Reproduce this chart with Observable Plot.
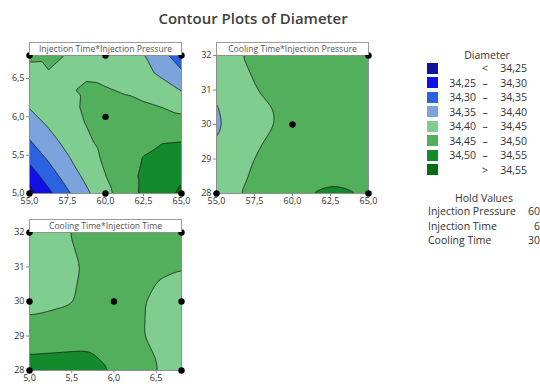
<!DOCTYPE html>
<html><head><meta charset="utf-8">
<script src="https://cdn.jsdelivr.net/npm/d3@7"></script>
<script src="https://cdn.jsdelivr.net/npm/@observablehq/plot@0.6"></script>
<style>
body{margin:0;background:#fff;font-family:"Open Sans",sans-serif;}
#root{position:relative;width:540px;height:387px;overflow:hidden;background:#fff;}
.abs{position:absolute;white-space:nowrap;}
.title{left:0;width:506px;top:7px;text-align:center;font-size:15px;font-weight:600;color:#404040;line-height:22px;}
.hdr{box-sizing:border-box;border:1px solid #9a9a9a;border-bottom:none;background:#fff;text-align:center;font-size:8.6px;color:#555;line-height:12px;height:13px;}
.lg{font-size:10.5px;color:#333;line-height:14px;}
.sw{width:11px;height:11px;}
</style></head><body><div id="root"></div>
<script>
// ---- data ----
const thresholds = [34.25, 34.30, 34.35, 34.40, 34.45, 34.50, 34.55];
const bandColors = ["#1212A0", "#1010E6", "#2A62E0", "#7BA3DC", "#80CE8F", "#52AF5B", "#138A2C", "#066C13"];
const holdNames = ["Injection Pressure", "Injection Time", "Cooling Time"];
const holdValues = ["60", "6", "30"];
const panelTitles = ["Injection Time*Injection Pressure", "Cooling Time*Injection Pressure", "Cooling Time*Injection Time"];

const pressureFine = [55, 56.25, 57.5, 58.75, 60, 61.25, 62.5, 63.75, 65];
const injTimeFine = [5, 5.225, 5.45, 5.675, 5.9, 6.125, 6.35, 6.575, 6.8];
const pressureGrid = [55, 57.5, 60, 62.5, 65];
const injTimeGrid = [5, 5.45, 5.9, 6.35, 6.8];
const coolGrid = [28, 29, 30, 31, 32];

const diamTimePressure = [
  [34.229, 34.288, 34.342, 34.391, 34.436, 34.475, 34.509, 34.538, 34.556],
  [34.272, 34.324, 34.371, 34.412, 34.449, 34.481, 34.508, 34.529, 34.546],
  [34.311, 34.355, 34.394, 34.429, 34.458, 34.482, 34.502, 34.516, 34.525],
  [34.346, 34.382, 34.414, 34.442, 34.464, 34.479, 34.491, 34.498, 34.500],
  [34.376, 34.405, 34.430, 34.451, 34.465, 34.472, 34.477, 34.476, 34.470],
  [34.402, 34.423, 34.441, 34.455, 34.461, 34.462, 34.458, 34.4495, 34.437],
  [34.423, 34.4375, 34.447, 34.454, 34.453, 34.446, 34.434, 34.419, 34.398],
  [34.4405, 34.449, 34.448, 34.446, 34.438, 34.428, 34.412, 34.390, 34.357],
  [34.456, 34.455, 34.449, 34.437, 34.425, 34.413, 34.402, 34.365, 34.320]
];
// panel 2: rows = cooling time (28 -> 32), cols = injection pressure
const diamCoolPressure = [
  [34.430, 34.465, 34.499, 34.510, 34.501],
  [34.402, 34.452, 34.465, 34.470, 34.468],
  [34.390, 34.440, 34.458, 34.462, 34.458],
  [34.396, 34.450, 34.460, 34.465, 34.460],
  [34.425, 34.465, 34.468, 34.475, 34.468]
];
// panel 3: rows = cooling time (28 -> 32), cols = injection time
const diamCoolTime = [
  [34.530, 34.535, 34.505, 34.465, 34.425],
  [34.465, 34.470, 34.475, 34.451, 34.420],
  [34.440, 34.447, 34.465, 34.452, 34.425],
  [34.430, 34.444, 34.462, 34.465, 34.452],
  [34.430, 34.449, 34.465, 34.480, 34.507]
];

// design points
const pts1X = [55, 60, 65, 55, 60, 65, 60];
const pts1Y = [5, 5, 5, 6.8, 6.8, 6.8, 6];
const pts2X = [55, 65, 65, 60];
const pts2Y = [28, 28, 32, 30];
const pts3X = [5, 6.8, 5, 6.8, 5, 6.8, 6];
const pts3Y = [28, 28, 32, 32, 30, 30, 30];

// ---- helpers ----
const comma1 = d => d.toFixed(1).replace(".", ",");
const comma2 = d => d.toFixed(2).replace(".", ",");
const root = document.getElementById("root");
function add(html, cls, style) {
  const d = document.createElement("div");
  d.className = "abs " + (cls || "");
  d.innerHTML = html;
  Object.assign(d.style, style || {});
  root.appendChild(d);
  return d;
}
function gridPoints(xs, ys, grid) {
  const out = [];
  ys.forEach((y, i) => xs.forEach((x, j) => out.push({x, y, v: grid[i][j]})));
  return out;
}

function panel({left, top, xs, ys, grid, blur, xDomain, yDomain, xTicks, yTicks, xFmt, yFmt, px, py, title}) {
  const pts = px.map((x, i) => ({x, y: py[i]}));
  const chart = Plot.plot({
    width: 190, height: 175,
    marginLeft: 29, marginRight: 9, marginTop: 15, marginBottom: 22,
    style: {fontFamily: "Open Sans, sans-serif", fontSize: "9px", color: "#333", background: "transparent", overflow: "visible"},
    x: {domain: xDomain, label: null},
    y: {domain: yDomain, label: null},
    color: {type: "threshold", domain: thresholds, range: bandColors},
    marks: [
      Plot.contour(gridPoints(xs, ys, grid), {
        x: "x", y: "y", fill: "v",
        thresholds: [34.0, ...thresholds],
        interpolate: "barycentric", blur,
        stroke: "#1a1a1a", strokeWidth: 0.8, clip: "frame"
      }),
      Plot.frame({stroke: "#8f8f8f"}),
      Plot.axisX({ticks: xTicks, tickFormat: xFmt, tickSize: 3, tickPadding: 1, stroke: "#888", fontSize: 9}),
      Plot.axisY({ticks: yTicks, tickFormat: yFmt, tickSize: 3, tickPadding: 2, stroke: "#888", fontSize: 9}),
      Plot.dot(pts, {x: "x", y: "y", r: 3.2, fill: "black", clip: false})
    ]
  });
  chart.style.position = "absolute";
  chart.style.left = left + "px";
  chart.style.top = top + "px";
  root.appendChild(chart);
  add(title, "hdr", {left: (left + 29) + "px", top: (top + 2) + "px", width: "153px"});
}

// ---- title ----
add("Contour Plots of Diameter", "title");

panel({left: 0, top: 40, xs: pressureFine, ys: injTimeFine, grid: diamTimePressure, blur: 0,
  xDomain: [55, 65], yDomain: [5, 6.8], xTicks: [55, 57.5, 60, 62.5, 65], yTicks: [5, 5.5, 6, 6.5],
  xFmt: comma1, yFmt: comma1, px: pts1X, py: pts1Y, title: panelTitles[0]});
panel({left: 187, top: 40, xs: pressureGrid, ys: coolGrid, grid: diamCoolPressure, blur: 3,
  xDomain: [55, 65], yDomain: [28, 32], xTicks: [55, 57.5, 60, 62.5, 65], yTicks: [28, 29, 30, 31, 32],
  xFmt: comma1, yFmt: d => String(d), px: pts2X, py: pts2Y, title: panelTitles[1]});
panel({left: 0, top: 217, xs: injTimeGrid, ys: coolGrid, grid: diamCoolTime, blur: 2,
  xDomain: [5, 6.8], yDomain: [28, 32], xTicks: [5, 5.5, 6, 6.5], yTicks: [28, 29, 30, 31, 32],
  xFmt: comma1, yFmt: d => String(d), px: pts3X, py: pts3Y, title: panelTitles[2]});

// ---- legend ----
add("Diameter", "lg", {left: "437px", width: "100px", textAlign: "center", top: "48px"});
const rowY = [68, 82.5, 97, 111.5, 126, 140.5, 155, 169.5];
bandColors.forEach((c, i) => {
  const y = rowY[i];
  add("", "sw", {left: "427px", top: (y - 5.5) + "px", background: c});
  let lo = "", mid = "", hi = "";
  if (i === 0) { mid = "&lt;"; hi = comma2(thresholds[0]); }
  else if (i === bandColors.length - 1) { mid = "&gt;"; hi = comma2(thresholds[thresholds.length - 1]); }
  else { lo = comma2(thresholds[i - 1]); mid = "–"; hi = comma2(thresholds[i]); }
  if (lo) add(lo, "lg", {left: "440px", width: "36px", textAlign: "right", top: (y - 7) + "px"});
  add(mid, "lg", {left: "479px", width: "12px", textAlign: "center", top: (y - 7) + "px"});
  add(hi, "lg", {left: "490px", width: "37px", textAlign: "right", top: (y - 7) + "px"});
});
add("Hold Values", "lg", {left: "434px", width: "100px", textAlign: "center", top: "191px"});
holdNames.forEach((n, i) => {
  const y = 211 + i * 14.7;
  add(n, "lg", {left: "428px", top: (y - 7) + "px"});
  add(holdValues[i], "lg", {left: "505px", width: "35px", textAlign: "right", top: (y - 7) + "px"});
});
</script></body></html>
